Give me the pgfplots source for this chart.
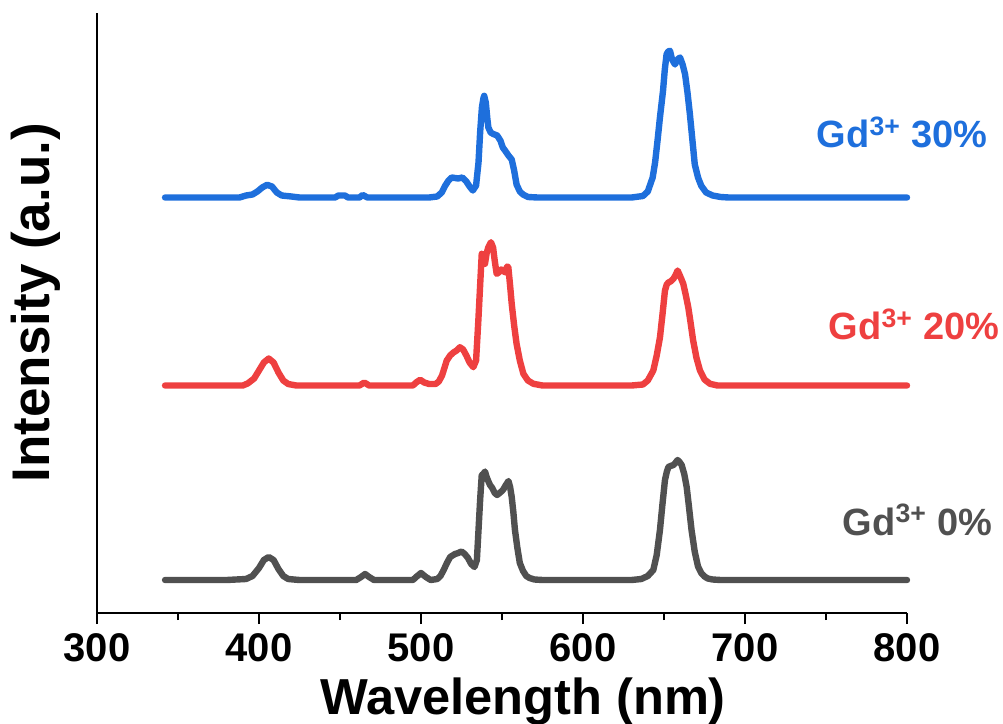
\documentclass[border=0pt]{standalone}
\usepackage{fontspec}
\setmainfont{Liberation Sans}
\usepackage{pgfplots}
\usepackage{pgfplotstable}
\pgfplotsset{compat=1.18}
\usetikzlibrary{calc}
\definecolor{cblue}{RGB}{30,111,220}
\definecolor{cred}{RGB}{238,64,64}
\definecolor{cgray}{RGB}{80,80,80}

% heights above each curve's own baseline (pixel units of the figure)
\pgfplotstableread{
x h
342 0
380 0
392 1
396 4
400 12
403 20
406 23
409 20
412 11
415 4
418 1
425 0
460 0
463 3
465.5 6
468 3
471 0
495 0
497 3
500 7
503 3
506 0
510 1
512 4
514 10
516 17
518 23
521 26
523 27
525 28.5
527 26
529 22
531 16
533 13
534.5 20
535.5 50
536.5 80
537.5 105
538.5 106
539.5 108.5
540.5 103
541.5 99
542.6 95
544 92
545.5 87
547 85
548.5 87
550 89
551 91
552 94
553.2 97
554 99
555 93
556 83
557 68
558 50
559.5 32
561 17
563 9
565 4
567 2
570 0.5
575 0
630 0
636 1
640 4
643.4 10
645.5 25
647.5 50
649 75
650.6 100
651.7 108
652.7 113
654 114
655.8 115
657 117
658.4 120
659.6 118
660.9 115
662.5 106
664 93
665.5 72
667 50
669 28
671 13.5
673 7
675 3.5
677 1.5
680 0.5
685 0
800 0
}\gdzero

\pgfplotstableread{
x h
342 0
390 0
393 2
397 7
400 15
403 23
406 27
409 23
412 13
415 5
418 1.5
423 0
462 0
465 3
468 0
495 0
497 3
499.5 5.7
502 3
505 1.5
509 1.5
511 4
513 10
515.9 25
518 30
520 33
522 35
524 38.3
526 36
528 30
530 23
532.3 18.3
534 25
535.4 65
536.5 100
537.5 131.7
538.5 126
539.5 121.7
540.5 132
541.5 138
543.2 143.3
544.5 138
545.5 125
546.7 111.7
548 113
549.5 116
550.8 115
552 113
553.2 119
553.9 118.3
555 100
556 81.7
557.5 60
559 41.7
561 25
563.2 11.7
566 5
569.4 1.7
575 0
630 0
637 1
640 5
643.4 15
645.5 30
647.5 48
649 70
650.6 95
651.7 101
652.7 103
654 104
655.8 106.7
657 110
658.4 115
659.8 110
661.9 101.7
663.5 90
665 78
666.5 62
668 45
670 28
672.2 15
675 6
678.4 1.7
683 0
800 0
}\gdtwenty

\pgfplotstableread{
x h
342 0
388 0
392 2
396 3
399 6
402 10
405 12.7
408 11
411 5
414 2
420 1
425 0
447 0
449 2
453 2
455 0
462 0
464 2.5
467 0
505 0
510 1
512.8 5
515 12
517 17
519 20
523 19
525.5 20
528 16
530 11
532 7
534 12
535.5 35
536.5 65
537.6 90
538.5 99
539 101.7
540 95
541 78
541.6 70
543 65
544.6 63.5
547 62
549 57
550.5 50
552 46.7
554 42
556 38
557.5 27
559 13
561 6
563 3
566 0.5
572 0
630 0
637 1.5
640 6
643 20
644.5 35
646 56.7
647.5 80
649.4 106.7
650.5 128
651.6 143.3
652.6 146
653.7 146.7
655 138
656.8 133
658.3 138
659.9 140
661.5 133
663 123.3
664.5 105
666 83
667.5 58
669 33
671 20
673 11.7
676 5
680 2
685 0.5
690 0
800 0
}\gdthirty

\begin{document}
\begin{tikzpicture}
\begin{axis}[
  name=ax,
  scale only axis,
  width=405pt, height=300pt,
  xmin=300, xmax=800, ymin=0, ymax=600,
  axis x line*=bottom, axis y line*=left,
  axis line style={line width=1pt},
  xtick={300,400,...,800},
  minor xtick={350,450,...,750},
  ytick=\empty,
  tick align=outside,
  major tick length=5.5pt, minor tick length=3.5pt,
  tick style={line width=1pt, black},
  xtick pos=bottom,
  /pgf/number format/assume math mode=true,
  ticklabel style={font=\fontsize{20}{24}\selectfont\bfseries, yshift=-1.5pt},
  xlabel={Wavelength (nm)},
  ylabel={Intensity (a.u.)},
  xlabel style={font=\fontsize{25.3}{30}\selectfont\bfseries, yshift=-0.8pt, xshift=10.5pt},
  ylabel style={font=\fontsize{26.5}{30}\selectfont\bfseries, at={(axis description cs:-0.075,0.517)}, anchor=center},
  clip=false,
  every axis plot/.append style={line width=3.2pt, line join=round, line cap=round},
]
\addplot[cgray] table[x=x, y expr=\thisrow{h}+33] {\gdzero};
\addplot[cred] table[x=x, y expr=\thisrow{h}+227.5] {\gdtwenty};
\addplot[cblue] table[x=x, y expr=\thisrow{h}+415.5] {\gdthirty};

\node[anchor=base east, inner sep=0pt, text=cblue, font=\fontsize{19}{22}\selectfont\bfseries] at (axis cs:850,465) {Gd\textsuperscript{3+} 30\%};
\node[anchor=base east, inner sep=0pt, text=cred, font=\fontsize{19}{22}\selectfont\bfseries] at (axis cs:857.4,273) {Gd\textsuperscript{3+} 20\%};
\node[anchor=base east, inner sep=0pt, text=cgray, font=\fontsize{19}{22}\selectfont\bfseries] at (axis cs:853,78) {Gd\textsuperscript{3+} 0\%};
\end{axis}
\pgfresetboundingbox
\path[use as bounding box] ($(ax.south west)+(-48.5pt,-55.5pt)$) rectangle ($(ax.south west)+(453pt,306.5pt)$);
\end{tikzpicture}
\end{document}
